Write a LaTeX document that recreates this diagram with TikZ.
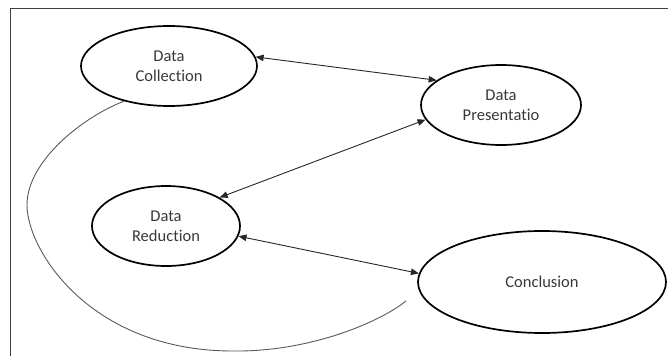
\documentclass[tikz,border=0pt]{standalone}
\usepackage{fontspec}
\setmainfont{Carlito}[Ligatures=NoCommon]
\usetikzlibrary{shapes.geometric,arrows.meta}

\tikzset{
  bubble/.style={draw, ellipse, line width=1.7pt, inner sep=0pt,
                 align=center, text=black!78, font=\fontsize{16.5}{20}\selectfont},
  link/.style={line width=0.9pt, black!85,
               {Triangle[length=8pt,width=6.5pt]}-{Triangle[length=8pt,width=6.5pt]}},
  loopline/.style={line width=0.9pt, black!65},
}

\begin{document}
\begin{tikzpicture}[x=1pt, y=-1pt]
    \useasboundingbox (0,0) rectangle (668,356);

    % Frame
    \draw [line width=1.2pt, black!75] (10.5,356) -- (10.5,8.5) -- (668,8.5);

    % Stages
    \node [bubble, minimum width=176pt, minimum height=80pt]
          (coll) at (169,66) {Data\\Collection};
    \node [bubble, minimum width=160pt, minimum height=80pt]
          (pres) at (501,105) {Data\\Presentatio};
    \node [bubble, minimum width=148pt, minimum height=80pt]
          (red) at (166,226) {Data\\Reduction};
    \node [bubble, minimum width=248pt, minimum height=102pt]
          (concl) at (542,282) {Conclusion};

    % Links
    \draw [link] (coll.6) -- (pres.159);
    \draw [link] (red.28) -- (pres.191);
    \draw [link] (red.352) -- (concl.176);

    % Loop back
    \coordinate (loopend) at (406,301);
    \draw [loopline] (coll.218) .. controls (85,116) and (27,160) .. (27,205)
          .. controls (27,250) and (90,351) .. (233,351)
          .. controls (310,352) and (380,322) .. (loopend);
\end{tikzpicture}
\end{document}
